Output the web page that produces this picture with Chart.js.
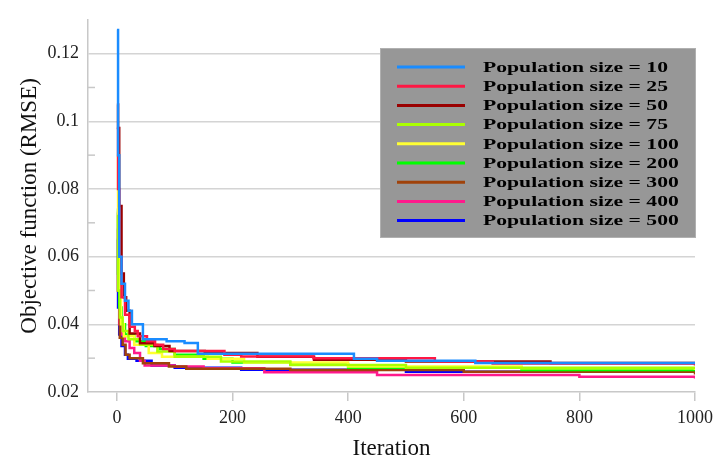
<!DOCTYPE html>
<html>
<head>
<meta charset="utf-8">
<script src="https://cdn.jsdelivr.net/npm/chart.js@4"></script>
<style>
  body { margin: 0; background: #fff; }
  #wrap { width: 719px; height: 463px; }
</style>
</head>
<body>
<div id="wrap"><canvas id="myChart" width="719" height="463"></canvas></div>
<script>
'use strict';

// population sizes (legend)
let popSizes = [10, 25, 50, 75, 100, 200, 300, 400, 500];
let popColors = ['#1a8cff', '#ff1744', '#9a0000', '#aaff00', '#ffff33', '#00ff00', '#a0420a', '#ff1a8c', '#0000ff'];

// [iteration, RMSE]
let pop10 = [[0, 0.127], [2, 0.09], [4, 0.06], [8, 0.052], [14, 0.047], [20, 0.044], [26, 0.040], [45, 0.0356], [86, 0.035], [117, 0.0345], [140, 0.0313], [410, 0.0298], [450, 0.0292], [620, 0.0286], [1000, 0.0282]];
let pop25 = [[0, 0.098], [2, 0.08], [4, 0.06], [8, 0.048], [14, 0.0428], [22, 0.0393], [31, 0.038], [36, 0.0365], [52, 0.035], [66, 0.034], [80, 0.0327], [100, 0.0321], [186, 0.031], [215, 0.0305], [340, 0.030], [550, 0.029], [650, 0.0284], [1000, 0.0278]];
let pop50 = [[0, 0.105], [2, 0.098], [4, 0.075], [8, 0.055], [12, 0.048], [16, 0.044], [22, 0.0373], [40, 0.0344], [65, 0.0336], [91, 0.0321], [152, 0.0315], [243, 0.0304], [341, 0.0295], [500, 0.029], [750, 0.0286], [1000, 0.0284]];
let pop75 = [[0, 0.072], [2, 0.05], [5, 0.042], [10, 0.038], [20, 0.0356], [40, 0.034], [70, 0.032], [100, 0.0304], [180, 0.029], [300, 0.028], [500, 0.0272], [1000, 0.0267]];
let pop100 = [[0, 0.09], [2, 0.07], [4, 0.05], [7, 0.04], [12, 0.0365], [30, 0.034], [55, 0.0315], [78, 0.0304], [157, 0.0298], [220, 0.0287], [400, 0.0275], [700, 0.027], [1000, 0.0265]];
let pop200 = [[0, 0.074], [2, 0.055], [4, 0.045], [8, 0.04], [14, 0.037], [30, 0.035], [50, 0.0336], [74, 0.0327], [100, 0.031], [150, 0.0298], [200, 0.0287], [300, 0.0281], [400, 0.0272], [700, 0.0265], [1000, 0.0262]];
let pop300 = [[0, 0.073], [2, 0.05], [5, 0.036], [10, 0.034], [15, 0.031], [22, 0.030], [45, 0.0285], [90, 0.0275], [120, 0.0269], [300, 0.0265], [600, 0.026], [1000, 0.0252]];
let pop400 = [[0, 0.068], [2, 0.05], [4, 0.04], [8, 0.037], [14, 0.035], [22, 0.033], [30, 0.0315], [40, 0.0292], [48, 0.0278], [100, 0.0275], [150, 0.027], [255, 0.0258], [450, 0.025], [800, 0.0245], [1000, 0.024]];
let pop500 = [[0, 0.065], [2, 0.045], [4, 0.037], [8, 0.0336], [14, 0.031], [19, 0.0298], [34, 0.0292], [60, 0.0278], [100, 0.0272], [215, 0.0266], [500, 0.026], [1000, 0.0256]];

let allSeries = [pop10, pop25, pop50, pop75, pop100, pop200, pop300, pop400, pop500];

let xTicks = [0, 200, 400, 600, 800, 1000];
let yTicks = [0.02, 0.03, 0.04, 0.05, 0.06, 0.07, 0.08, 0.09, 0.1, 0.11, 0.12, 0.13];
let yLabels = ['0.02', '0.04', '0.06', '0.08', '0.1', '0.12'];

let serif = "'Liberation Serif', 'Times New Roman', serif";

let datasets = [];
for (let i = 0; i < allSeries.length; i++) {
  datasets.push({
    label: 'Population size = ' + popSizes[i],
    data: allSeries[i].map(p => ({ x: p[0], y: p[1] })),
    borderColor: popColors[i],
    backgroundColor: popColors[i],
    borderWidth: 2.5,
    pointRadius: 0,
    stepped: 'before',
    fill: false
  });
}

function isMajor(v) {
  return yLabels.indexOf(String(+v.toFixed(2))) !== -1;
}

// minor ticks drawn inside the axis, like the original
let minorTicks = {
  id: 'minorTicks',
  afterDatasetsDraw(chart) {
    let ctx = chart.ctx;
    let ys = chart.scales.y;
    let left = chart.chartArea.left;
    ctx.save();
    ctx.strokeStyle = '#c8c8c8';
    ctx.lineWidth = 1.5;
    for (let i = 0; i < yTicks.length; i++) {
      if (isMajor(yTicks[i]) || yTicks[i] >= 0.13) continue;
      let y = ys.getPixelForValue(yTicks[i]);
      ctx.beginPath();
      ctx.moveTo(left, y);
      ctx.lineTo(left + 7, y);
      ctx.stroke();
    }
    ctx.restore();
  }
};

// grey legend box inside the plot
let boxLegend = {
  id: 'boxLegend',
  afterDraw(chart) {
    let ctx = chart.ctx;
    let bx = 380, by = 48, bw = 316, bh = 190;
    ctx.save();
    ctx.fillStyle = '#979797';
    ctx.fillRect(bx, by, bw, bh);
    ctx.strokeStyle = '#b0b0b0';
    ctx.lineWidth = 1;
    ctx.strokeRect(bx + 0.5, by + 0.5, bw - 1, bh - 1);

    ctx.font = 'bold 15px ' + serif;
    let sx = 185 / ctx.measureText('Population size = 10').width;
    ctx.textBaseline = 'middle';
    ctx.fillStyle = '#000';
    for (let i = 0; i < chart.data.datasets.length; i++) {
      let ds = chart.data.datasets[i];
      let y = 67 + i * 19.2;
      ctx.strokeStyle = ds.borderColor;
      ctx.lineWidth = 3;
      ctx.beginPath();
      ctx.moveTo(397, y);
      ctx.lineTo(465, y);
      ctx.stroke();
      ctx.save();
      ctx.translate(483, y + 1);
      ctx.scale(sx, 1);
      ctx.fillText(ds.label, 0, 0);
      ctx.restore();
    }
    ctx.restore();
  }
};

let ctx = document.getElementById('myChart').getContext('2d');

let myChart = new Chart(ctx, {
  type: 'line',
  data: { datasets: datasets },
  options: {
    responsive: false,
    animation: false,
    devicePixelRatio: 1,
    layout: { padding: { top: 12, right: 22, bottom: 0, left: 0 } },
    plugins: {
      legend: { display: false },
      tooltip: { enabled: false }
    },
    scales: {
      x: {
        type: 'linear',
        min: -50,
        max: 1000,
        afterBuildTicks: s => { s.ticks = xTicks.map(v => ({ value: v })); },
        afterFit: s => { s.height = 71; },
        grid: { drawOnChartArea: false, tickLength: 9, tickColor: '#c8c8c8', lineWidth: 1.5 },
        border: { color: '#c8c8c8', width: 1.5 },
        ticks: { color: '#222', font: { family: serif, size: 18 }, padding: 6, maxRotation: 0, callback: v => String(v) },
        title: { display: true, text: 'Iteration', color: '#111', font: { family: serif, size: 23 }, padding: { top: 0, bottom: 0 } }
      },
      y: {
        type: 'linear',
        min: 0.02,
        max: 0.13,
        afterBuildTicks: s => { s.ticks = yTicks.map(v => ({ value: v })); },
        afterFit: s => { s.width = 88; },
        grid: {
          drawTicks: false,
          lineWidth: 1.5,
          color: c => (isMajor(c.tick.value) && c.tick.value > 0.021) ? '#d4d4d4' : 'rgba(0,0,0,0)'
        },
        border: { color: '#c8c8c8', width: 1.5 },
        ticks: {
          color: '#222',
          font: { family: serif, size: 18 },
          padding: 9,
          autoSkip: false,
          callback: v => isMajor(v) ? String(+v.toFixed(2)) : ''
        },
        title: { display: true, text: 'Objective function (RMSE)', color: '#111', font: { family: serif, size: 23 }, padding: { top: 16, bottom: 0 } }
      }
    }
  },
  plugins: [minorTicks, boxLegend]
});
</script>
</body>
</html>
